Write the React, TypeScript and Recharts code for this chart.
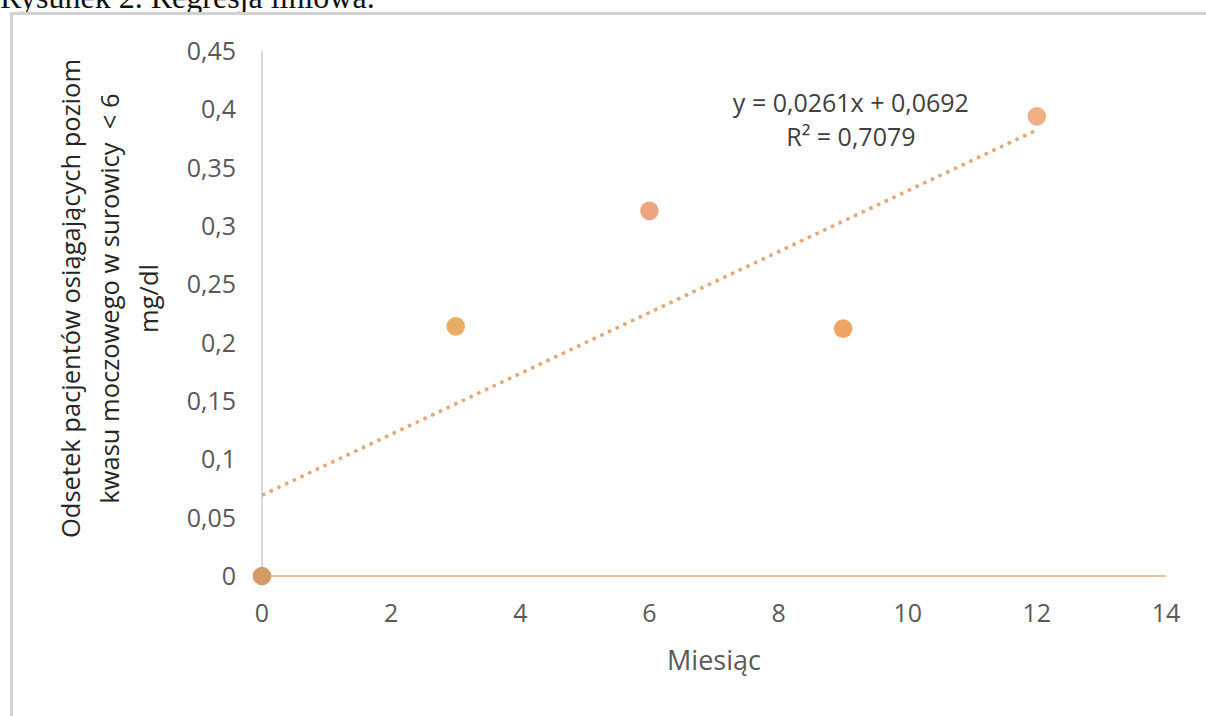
import React from 'react'
import { ScatterChart, Scatter, XAxis, YAxis, Cell, Label, ReferenceDot } from 'recharts'

// measurements (month) and share of patients reaching uric acid < 6 mg/dl
const months = [0, 3, 6, 9, 12]
const shares = [0, 0.214, 0.313, 0.212, 0.394]
const pointColors = ['#d39a68', '#e9ae66', '#eda67f', '#f0a462', '#efb088']

// Excel linear trendline endpoints
const trendMonths = [0, 12]
const trendShares = [0.0692, 0.3824]

const xTicks = [0, 2, 4, 6, 8, 10, 12, 14]
const yTicks = [0, 0.05, 0.1, 0.15, 0.2, 0.25, 0.3, 0.35, 0.4, 0.45]

const caption = 'Rysunek 2. Regresja liniowa.'
const xTitle = 'Miesiąc'
const yTitle = ['Odsetek pacjentów osiągających poziom', 'kwasu moczowego w surowicy  < 6', 'mg/dl']
const equation = ['y = 0,0261x + 0,0692', 'R² = 0,7079']

const FONT = '"Open Sans", "Noto Sans", sans-serif'
const TEXT = '#595959'

const points = months.map((m, i) => ({ x: m, y: shares[i] }))
const trend = trendMonths.map((m, i) => ({ x: m, y: trendShares[i] }))

const fmt = (v: number) => String(v).replace('.', ',')

const YTitle = (props: any) => {
  const { viewBox } = props
  const cy = viewBox.y + viewBox.height / 2 - 15
  const xs = [80, 119, 158]
  return (
    <g>
      {yTitle.map((line, i) => (
        <text
          key={i}
          x={xs[i]}
          y={cy}
          transform={`rotate(-90 ${xs[i]} ${cy})`}
          textAnchor="middle"
          fill="#262626"
          fontSize={25.5}
          fontFamily={FONT}
          style={{ whiteSpace: 'pre' }}
        >
          {line}
        </text>
      ))}
    </g>
  )
}

const XTitle = (props: any) => {
  const { viewBox } = props
  return (
    <text
      x={viewBox.x + viewBox.width / 2}
      y={viewBox.y + 94}
      textAnchor="middle"
      fill={TEXT}
      fontSize={27}
      fontFamily={FONT}
    >
      {xTitle}
    </text>
  )
}

const EquationLabel = (props: any) => {
  const { viewBox } = props
  const cx = viewBox.x + viewBox.width / 2
  const cy = viewBox.y + viewBox.height / 2
  return (
    <g fontFamily={FONT} fontSize={25} fill="#404040">
      <text x={cx} y={cy} textAnchor="middle">{equation[0]}</text>
      <text x={cx} y={cy + 34} textAnchor="middle">{equation[1]}</text>
    </g>
  )
}

export default function App() {
  return (
    <div style={{ position: 'absolute', left: 0, top: 0, width: 1206, height: 716, overflow: 'hidden', background: '#fff' }}>
      <svg width={1206} height={716} style={{ position: 'absolute', left: 0, top: 0 }}>
        <text x={0} y={8} fontFamily='"Liberation Serif", serif' fontSize={32} fill="#111">{caption}</text>
        <rect x={11.5} y={13.5} width={1210} height={720} fill="none" stroke="#d2d2d2" strokeWidth={3} />
      </svg>
      <div style={{ position: 'absolute', left: 0, top: 0 }}>
        <ScatterChart width={1206} height={716} margin={{ top: 51, right: 40, bottom: 0, left: 0 }}>
          <XAxis
            type="number"
            dataKey="x"
            domain={[0, 14]}
            ticks={xTicks}
            height={140}
            axisLine={{ stroke: '#e8c0a2', strokeWidth: 2 }}
            tickLine={false}
            tickSize={0}
            tickMargin={28}
            tick={{ fill: TEXT, fontSize: 25, fontFamily: FONT }}
          >
            <Label content={<XTitle />} />
          </XAxis>
          <YAxis
            type="number"
            dataKey="y"
            domain={[0, 0.45]}
            ticks={yTicks}
            width={262}
            axisLine={{ stroke: '#d9d9d9', strokeWidth: 2 }}
            tickLine={false}
            tickSize={0}
            tickMargin={26}
            tickFormatter={fmt}
            tick={{ fill: TEXT, fontSize: 25, fontFamily: FONT }}
          >
            <Label content={<YTitle />} />
          </YAxis>
          <Scatter
            data={trend}
            line={{ stroke: '#e6a675', strokeWidth: 3.5, strokeDasharray: '3.5 5' }}
            shape={() => <g />}
            legendType="none"
            isAnimationActive={false}
          />
          <Scatter
            data={points}
            shape={(p: any) => <circle cx={p.cx} cy={p.cy} r={9.3} fill={p.fill} />}
            isAnimationActive={false}
          >
            {points.map((_, i) => (
              <Cell key={i} fill={pointColors[i]} />
            ))}
          </Scatter>
          <ReferenceDot x={9.12} y={0.3977} r={0} fill="none" stroke="none" label={<EquationLabel />} />
        </ScatterChart>
      </div>
    </div>
  )
}
